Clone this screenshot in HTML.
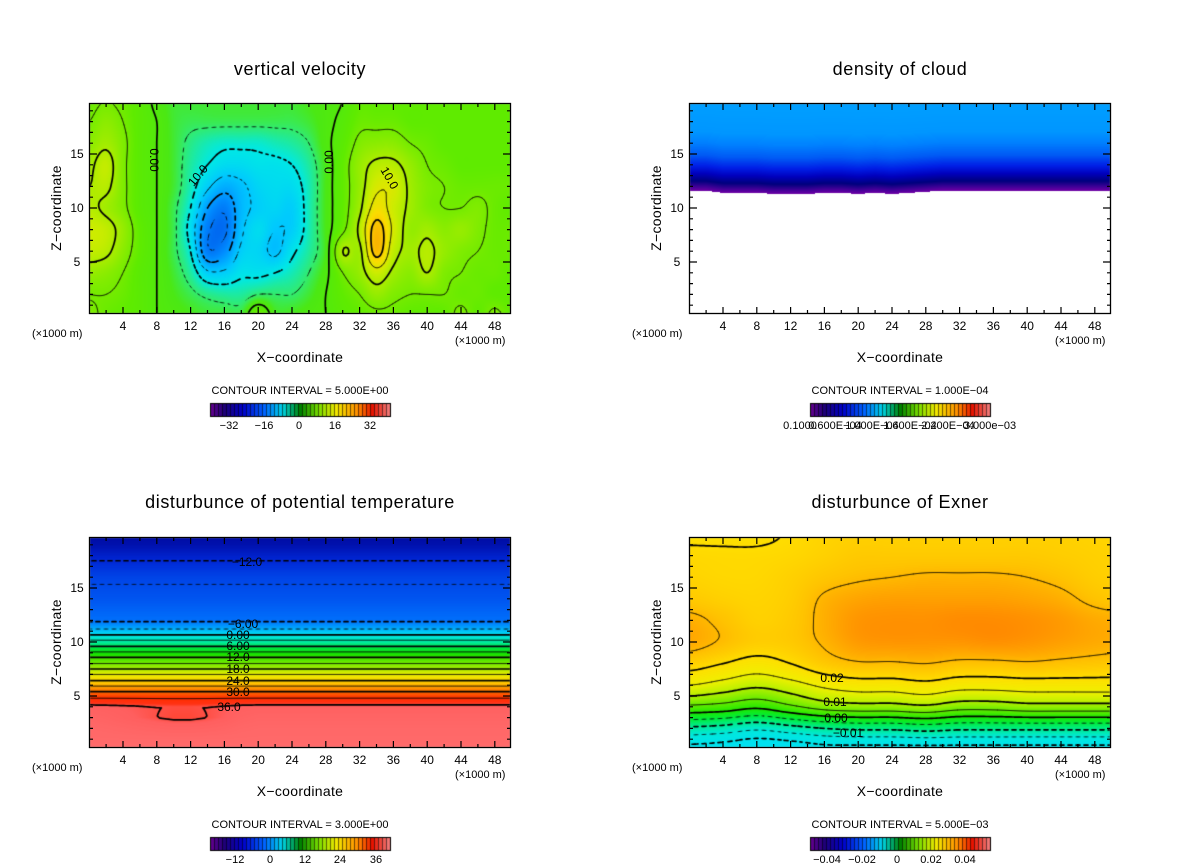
<!DOCTYPE html>
<html><head><meta charset="utf-8">
<style>
html,body{margin:0;padding:0;background:#fff;}
#wrap{position:relative;width:1200px;height:868px;overflow:hidden;font-family:"Liberation Sans",sans-serif;}
canvas,svg{position:absolute;left:0;top:0;}
svg text{font-family:"Liberation Sans",sans-serif;fill:#000;}
.t{font-size:18px;letter-spacing:0.6px;text-anchor:middle;}
.tk{font-size:12px;text-anchor:middle;}
.ax{font-size:14px;text-anchor:middle;letter-spacing:0.3px;}
.un{font-size:11px;}
.ci{font-size:11px;text-anchor:middle;}
.cl{font-size:11px;text-anchor:middle;}
.lab{font-size:12px;text-anchor:middle;}
</style></head>
<body>
<div id="wrap">
<canvas id="cv" width="1200" height="868"></canvas>
<svg id="sv" width="1200" height="868">
 <g id="g1">
  <text class="t" x="300" y="75">vertical velocity</text>
  <text class="ax" x="300" y="362">X−coordinate</text>
  <text class="ax" transform="translate(61,208) rotate(-90)">Z−coordinate</text>
  <text class="un" x="32" y="337">(×1000 m)</text>
  <text class="un" x="455" y="344">(×1000 m)</text>
  <text class="ci" x="300" y="394">CONTOUR INTERVAL = 5.000E+00</text>
  <g class="cl">
   <text x="229" y="429">−32</text><text x="264" y="429">−16</text><text x="299" y="429">0</text><text x="335" y="429">16</text><text x="370" y="429">32</text>
  </g>
  <g class="lab">
   <text transform="translate(150,160) rotate(90)">0.00</text>
   <text transform="translate(201,178) rotate(-50)">10.0</text>
   <text transform="translate(333,162) rotate(-90)">0.00</text>
   <text transform="translate(386,180) rotate(60)">10.0</text>
  </g>
 </g>
 <g id="g2">
  <text class="t" x="900" y="75">density of cloud</text>
  <text class="ax" x="900" y="362">X−coordinate</text>
  <text class="ax" transform="translate(661,208) rotate(-90)">Z−coordinate</text>
  <text class="un" x="632" y="337">(×1000 m)</text>
  <text class="un" x="1055" y="344">(×1000 m)</text>
  <text class="ci" x="900" y="394">CONTOUR INTERVAL = 1.000E−04</text>
  <g class="cl">
   <text x="800" y="429">0.1000</text><text x="835" y="429">0.600E−04</text><text x="872" y="429">1.000E−04</text><text x="910" y="429">1.600E−04</text><text x="948" y="429">2.200E−04</text><text x="990" y="429">3.000e−03</text>
  </g>
 </g>
 <g id="g3">
  <text class="t" x="300" y="508">disturbunce of potential temperature</text>
  <text class="ax" x="300" y="796">X−coordinate</text>
  <text class="ax" transform="translate(61,642) rotate(-90)">Z−coordinate</text>
  <text class="un" x="32" y="771">(×1000 m)</text>
  <text class="un" x="455" y="778">(×1000 m)</text>
  <text class="ci" x="300" y="828">CONTOUR INTERVAL = 3.000E+00</text>
  <g class="cl">
   <text x="235" y="863">−12</text><text x="270" y="863">0</text><text x="305" y="863">12</text><text x="340" y="863">24</text><text x="376" y="863">36</text>
  </g>
  <g class="lab">
   <text x="247" y="566">−12.0</text><text x="243" y="628">−6.00</text><text x="238" y="639">0.00</text><text x="238" y="650">6.00</text><text x="238" y="661">12.0</text><text x="238" y="673">18.0</text><text x="238" y="685">24.0</text><text x="238" y="696">30.0</text><text x="229" y="711">36.0</text>
  </g>
 </g>
 <g id="g4">
  <text class="t" x="900" y="508">disturbunce of Exner</text>
  <text class="ax" x="900" y="796">X−coordinate</text>
  <text class="ax" transform="translate(661,642) rotate(-90)">Z−coordinate</text>
  <text class="un" x="632" y="771">(×1000 m)</text>
  <text class="un" x="1055" y="778">(×1000 m)</text>
  <text class="ci" x="900" y="828">CONTOUR INTERVAL = 5.000E−03</text>
  <g class="cl">
   <text x="827" y="863">−0.04</text><text x="862" y="863">−0.02</text><text x="897" y="863">0</text><text x="931" y="863">0.02</text><text x="965" y="863">0.04</text>
  </g>
  <g class="lab">
   <text x="832" y="682">0.02</text><text x="835" y="706">0.01</text><text x="836" y="722">0.00</text><text x="848" y="737">−0.01</text>
  </g>
 </g>
</svg>
</div>
<script>
// ===== DATA =====
const wX0 = 0, wDX = 2;
const wZtop = [20,18,16,14,12,10,8,6,4,2,0];
const wRows = [
 [4,5,4,2,-1,-3,-3,-3,-3,-3,-3,-3,-3,-2,-1,0,3,3,3,3,3,3,3,3,3,3],
 [5,7,5,2,0,-3,-4,-4,-4,-4,-4,-4,-4,-3,-1,1,4,4,4,3,3,3,3,3,3,3],
 [7,9,6,2,0,-3,-6,-8,-9,-9,-9,-8,-7,-5,-1,2,6,7,7,5,4,3,3,3,3,3],
 [9,12,6,2,0,-3,-7,-10,-12,-12,-11,-11,-10,-7,-2,3,8,11,11,8,5,4,3,3,3,3],
 [10,11,6,2,0,-3,-8,-14,-18,-16,-13,-12,-12,-8,-2,3,8,14,14,9,6,5,4,4,4,4],
 [11,9,6,2,0,-4,-10,-20,-24,-17,-14,-13,-14,-8,-2,3,9,17,13,9,6,5,5,6,4,3],
 [13,12,8,3,0,-4,-12,-24,-26,-16,-12,-15,-14,-8,-2,4,11,22,14,8,9,7,8,6,4,4],
 [12,11,7,3,0,-4,-10,-24,-22,-14,-13,-16,-11,-7,-2,10,9,22,12,9,11,8,6,5,4,4],
 [8,7,5,2,0,-3,-7,-14,-14,-11,-11,-10,-8,-5,-1,5,8,13,9,7,10,6,5,4,4,3],
 [5,5,4,2,0,-2,-4,-6,-7,-7,-5,-5,-5,-3,0,3,5,8,6,5,5,5,4,4,3,3],
 [6,4,3,2,0,-1,-2,-3,-3,-3,5,-2,-2,-1,0,2,3,4,4,3,3,3,6,3,6,3]
];
const cloudBase = [11.6,11.6,11.4,11.4,11.4,11.3,11.3,11.3,11.4,11.4,11.3,11.4,11.3,11.4,11.5,11.6,11.6,11.6,11.6,11.6,11.6,11.6,11.6,11.6,11.6,11.6];
const cloudDz = [0,0.4,0.9,1.6,2.3,3.3,4.5,5.5,8.5];
const cloudQ = [0.1,0.2,0.3,0.4,0.5,0.7,0.85,1.0,1.05];
const thZ = [0,2,3,4,4.5,5,5.5,6,6.5,7,7.5,8,8.5,9,9.5,10,10.5,11,11.5,12,14,16,17.5,19,20];
const thV = [38.5,38,37.5,36.8,34.5,32,29.5,26.5,23.5,21,18,15,12.5,9.5,6.5,4,1,-2,-4.5,-6.5,-8,-9.5,-12,-13.5,-14];
const thLowAdj = [0,-0.3,-0.7,-1.1,-1.5,-1.8,-1.8,-1.5,-1.0,-0.3,0,0,0,0,0,0,0,0,0,0,0,0,0,0,0,0];
const exDX = 4, exDZ = 2;
const exRows = [
 [-22,-23,-25,-24,-22,-22,-22,-22,-22,-22,-22,-22,-22,-22],
 [-11,-12,-14,-12,-10,-9,-9,-8,-9,-9,-9,-9,-9,-9],
 [4,3,1,4,7,8,8,9,7,7,8,8,8,8],
 [15,13,11,13,16,17.5,17.5,18.5,17,17,17.5,17.5,17.5,17.5],
 [22,20,18,20,23,24.5,24.5,25,24,24,24.5,24,23.5,23],
 [26.5,24.5,22.5,23,25.5,28,28.5,28.5,28.5,29,28.5,27.5,26.5,26],
 [26,24,22,23,26,28.5,29,29,29.5,29.5,29,28,26.5,26],
 [23,22,21.5,22.5,25.5,27,27.5,27.5,27.5,27.5,27,26,24,23],
 [21.5,21,21,22,23.5,24.5,25,25.5,25.5,25.5,25,24,22.5,22],
 [20.8,20.6,20.6,21,22,23,23,23,23,23,23,22.5,22,21.5],
 [19.2,19.2,19.2,20.3,21.5,22,22,22,22,22,22,22,21.5,21]
];
const xTickLabels = [4,8,12,16,20,24,28,32,36,40,44,48];
const zTickLabels = [5,10,15];

const cv=document.getElementById('cv'), ctx=cv.getContext('2d');
const NS='http://www.w3.org/2000/svg';
function cr(p0,p1,p2,p3,t){return 0.5*((2*p1)+(-p0+p2)*t+(2*p0-5*p1+4*p2-p3)*t*t+(-p0+3*p1-3*p2+p3)*t*t*t);}
function gridInterp(grid,dx,dz,x,z){
 const nz=grid.length,nx=grid[0].length;
 let fx=Math.max(0,Math.min(nx-1.0001,x/dx)), fz=Math.max(0,Math.min(nz-1.0001,z/dz));
 const i=Math.floor(fx), j=Math.floor(fz), tx=fx-i, tz=fz-j;
 const g=(jj,ii)=>grid[Math.max(0,Math.min(nz-1,jj))][Math.max(0,Math.min(nx-1,ii))];
 const r=[];
 for(let k=-1;k<3;k++) r.push(cr(g(j+k,i-1),g(j+k,i),g(j+k,i+1),g(j+k,i+2),tx));
 return cr(r[0],r[1],r[2],r[3],tz);
}
function lin(xs,ys,x){
 if(x<=xs[0])return ys[0]; if(x>=xs[xs.length-1])return ys[ys.length-1];
 for(let i=1;i<xs.length;i++) if(x<=xs[i]){const t=(x-xs[i-1])/(xs[i]-xs[i-1]);return ys[i-1]+t*(ys[i]-ys[i-1]);}
}
function cmap(stops,v){
 if(v<=stops[0][0])return stops[0].slice(1);
 for(let i=1;i<stops.length;i++) if(v<=stops[i][0]){const a=stops[i-1],b=stops[i],t=(v-a[0])/(b[0]-a[0]);return [a[1]+t*(b[1]-a[1]),a[2]+t*(b[2]-a[2]),a[3]+t*(b[3]-a[3])];}
 return stops[stops.length-1].slice(1);
}
const wGrid = wRows.slice().reverse();
const wField=(x,z)=>gridInterp(wGrid,wDX,2,x,z);
const xIdx=[]; for(let i=0;i<cloudBase.length;i++) xIdx.push(i*2);
const cloudField=(x,z)=>{const b=lin(xIdx,cloudBase,x);const dz=z-b;if(dz<0)return null;return lin(cloudDz,cloudQ,dz);};
const thField=(x,z)=>{let v=lin(thZ,thV,z);let wt=z<=1?0:(z<3?(z-1)/2:(z<5?(5-z)/2:0));return v+wt*lin(xIdx,thLowAdj,x);};
const exField=(x,z)=>gridInterp(exRows,exDX,exDZ,x,z);

const panels=[
 {id:'g1',ox:0,oy:0,f:wField,levels:{min:-35,max:35,step:5,thick:10},
  stops:[[-30,0,80,230],[-22,0,140,255],[-15,0,200,255],[-10,0,232,230],[-5,50,235,110],[-2,75,232,20],[3,95,235,0],[8,150,236,0],[13,205,236,0],[18,250,220,0],[23,250,180,0],[28,250,140,0]]},
 {id:'g2',ox:600,oy:0,f:cloudField,levels:null,
  stops:[[0.1,110,0,165],[0.2,60,0,150],[0.3,0,0,125],[0.4,0,0,190],[0.5,0,30,230],[0.7,0,90,245],[0.85,0,130,255],[1.0,0,150,255],[1.05,0,160,255]]},
 {id:'g3',ox:0,oy:434,f:thField,levels:{min:-15,max:39,step:3,thick:6},
  stops:[[-14,0,10,160],[-12,0,40,215],[-8,0,85,240],[-6,0,120,255],[-3,0,175,250],[0,0,228,240],[4,0,235,160],[7,0,230,60],[10,20,225,0],[14,100,230,0],[18,170,235,0],[21,230,235,0],[24,255,215,0],[27,255,170,0],[30,255,110,0],[33,255,45,0],[35,255,50,20],[36.5,255,95,95],[40,255,115,115]]},
 {id:'g4',ox:600,oy:434,f:exField,levels:{min:-25,max:35,step:5,thick:10},
  stops:[[-22,0,225,240],[-15,0,232,220],[-10,0,235,150],[-5,0,235,60],[0,30,232,0],[5,100,235,0],[10,180,240,0],[15,240,240,0],[20,255,222,0],[24,255,195,0],[27,255,165,0],[30,255,135,0]]}
];
const SX=(p,x)=>p.ox+89.2+x*8.45, SZ=(p,z)=>p.oy+316-z*10.8;
const IX=(p,px)=>(px-p.ox-89.2)/8.45, IZ=(p,py)=>(p.oy+316-py)/10.8;

panels.forEach(p=>{
 const L=p.ox+90,T=p.oy+104,Wd=420,Ht=209;
 const img=ctx.createImageData(Wd,Ht);
 for(let j=0;j<Ht;j++){const z=IZ(p,T+j+0.5);
  for(let i=0;i<Wd;i++){const x=IX(p,L+i+0.5);const v=p.f(x,z);const k=(j*Wd+i)*4;
   let c=v===null?[255,255,255]:cmap(p.stops,v);
   img.data[k]=c[0];img.data[k+1]=c[1];img.data[k+2]=c[2];img.data[k+3]=255;}}
 ctx.putImageData(img,L,T);
 if(p.levels){
  const st=2,nx=Math.ceil(Wd/st)+1,nz=Math.ceil(Ht/st)+1,G=[];
  for(let j=0;j<nz;j++){G.push([]);for(let i=0;i<nx;i++)G[j].push(p.f(IX(p,L+i*st),IZ(p,T+j*st)));}
  ctx.save();ctx.beginPath();ctx.rect(L,T,Wd,Ht);ctx.clip();ctx.strokeStyle='#000';ctx.lineCap='round';
  for(let lv=p.levels.min;lv<=p.levels.max;lv+=p.levels.step){
   const thick=Math.abs(lv%p.levels.thick)<1e-6, dashed=lv<0;
   ctx.lineWidth=thick?1.7:0.7;ctx.beginPath();
   for(let j=0;j<nz-1;j++)for(let i=0;i<nx-1;i++){
    if(dashed && (((i+j)>>1)&1))continue;
    const a=G[j][i],b=G[j][i+1],c=G[j+1][i+1],d=G[j+1][i];
    const pts=[];
    const e=(v1,v2,x1,y1,x2,y2)=>{if((v1<lv)!==(v2<lv)){const t=(lv-v1)/(v2-v1);pts.push([x1+t*(x2-x1),y1+t*(y2-y1)]);}};
    const x0=L+i*st,y0=T+j*st;
    e(a,b,x0,y0,x0+st,y0);e(b,c,x0+st,y0,x0+st,y0+st);e(d,c,x0,y0+st,x0+st,y0+st);e(a,d,x0,y0,x0,y0+st);
    if(pts.length>=2){ctx.moveTo(pts[0][0],pts[0][1]);ctx.lineTo(pts[1][0],pts[1][1]);}
    if(pts.length===4){ctx.moveTo(pts[2][0],pts[2][1]);ctx.lineTo(pts[3][0],pts[3][1]);}
   }
   ctx.stroke();
  }
  ctx.restore();
 }
 const cbx=p.ox+210,cby=p.oy+403,n=45,sw=180/n;
 const cbStops=[[0,100,0,140],[0.08,30,0,120],[0.18,0,0,200],[0.3,0,100,255],[0.4,0,210,230],[0.5,0,130,0],[0.6,120,220,0],[0.7,240,230,0],[0.82,255,140,0],[0.9,230,20,0],[1,240,130,130]];
 for(let k=0;k<n;k++){const c=cmap(cbStops,(k+0.5)/n);ctx.fillStyle=`rgb(${c[0]|0},${c[1]|0},${c[2]|0})`;ctx.fillRect(cbx+k*sw,cby,sw+0.3,13);
  ctx.fillStyle='rgba(0,0,0,0.55)';ctx.fillRect(cbx+k*sw,cby,1,13);}
 ctx.strokeStyle='#000';ctx.lineWidth=1;ctx.strokeRect(cbx+0.5,cby+0.5,180,13);
});

panels.forEach(p=>{
 const g=document.getElementById(p.id);
 const L=p.ox+90,T=p.oy+104,R=p.ox+510,B=p.oy+313;
 const fr=document.createElementNS(NS,'rect');
 fr.setAttribute('x',L-0.5);fr.setAttribute('y',T-0.5);fr.setAttribute('width',R-L+1);fr.setAttribute('height',B-T+1);
 fr.setAttribute('fill','none');fr.setAttribute('stroke','#000');fr.setAttribute('stroke-width','1.3');
 
 
 g.appendChild(fr);
 let d='';
 for(let x=2;x<=49;x+=2){const X=SX(p,x).toFixed(1);const len=x%4===0?6:3;d+=`M${X} ${B}v${-len}M${X} ${T}v${len}`;}
 for(let z=1;z<=19;z++){const Y=SZ(p,z).toFixed(1);const len=z%5===0?7:3;d+=`M${L} ${Y}h${len}M${R} ${Y}h${-len}`;}
 const tk=document.createElementNS(NS,'path');tk.setAttribute('d',d);tk.setAttribute('stroke','#000');tk.setAttribute('stroke-width','1.2');
 
 
 g.appendChild(tk);
 xTickLabels.forEach(v=>{const t=document.createElementNS(NS,'text');t.setAttribute('class','tk');t.setAttribute('x',SX(p,v));t.setAttribute('y',B+17);t.textContent=v;
  
  
  g.appendChild(t);});
 zTickLabels.forEach(v=>{const t=document.createElementNS(NS,'text');t.setAttribute('class','tk');t.setAttribute('x',L-13);t.setAttribute('y',SZ(p,v)+4);t.textContent=v;
  
  
  g.appendChild(t);});
});
</script>
</body></html>
